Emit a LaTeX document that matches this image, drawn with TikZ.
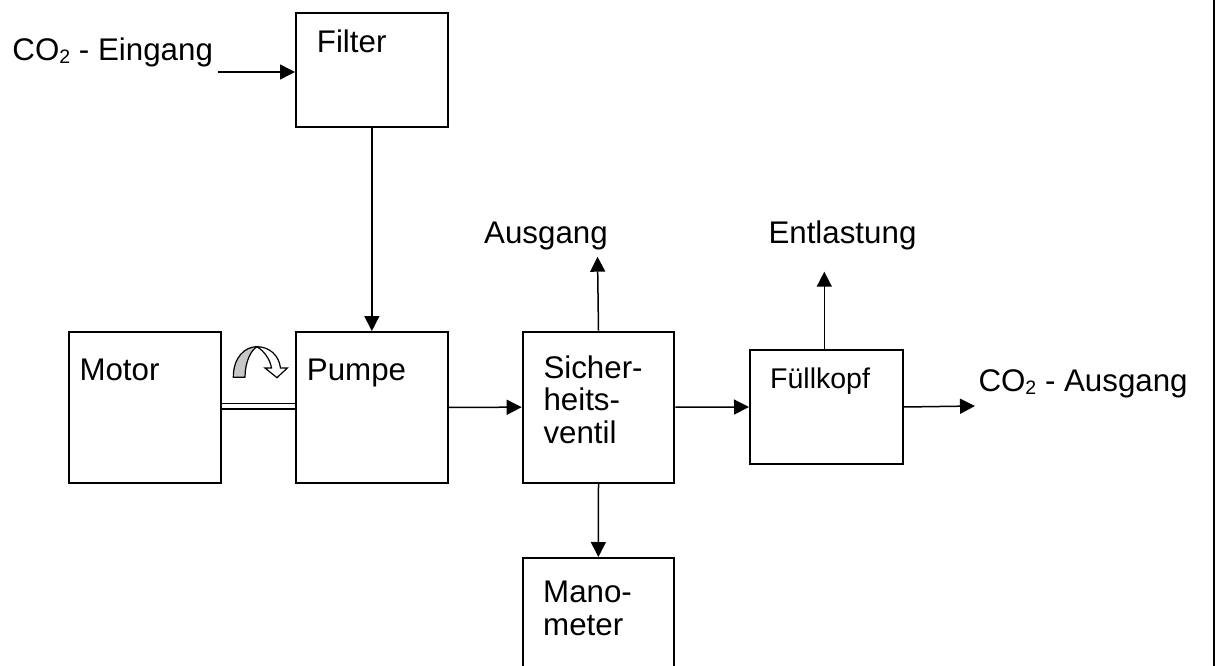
\documentclass[tikz,border=0pt]{standalone}
\usepackage{fontspec}
\setmainfont{Liberation Sans}
\usetikzlibrary{arrows.meta}
\begin{document}
\begin{tikzpicture}[x=1pt,y=-1pt,
  blk/.style={draw,line width=2pt,rectangle,inner sep=0pt,anchor=north west},
  lbl/.style={anchor=base west,inner sep=0pt,font=\fontsize{31.3}{32.5}\selectfont},
  smalllbl/.style={anchor=base west,inner sep=0pt,font=\fontsize{28.5}{30}\selectfont},
  flow/.style={line width=1.5pt,-{Triangle[length=15pt,width=15pt]}},
]
\useasboundingbox (0,0) rectangle (1215,666);
\clip (0,0) rectangle (1215,666);
% boxes
\node[blk,minimum width=151.7pt,minimum height=113.4pt] (filter) at (295,12.3) {};
\node[blk,minimum width=152pt,minimum height=150.7pt] (motor) at (67.7,331) {};
\node[blk,minimum width=151.7pt,minimum height=150.7pt] (pumpe) at (295,331) {};
\node[blk,minimum width=151.6pt,minimum height=151pt] (sv) at (521.7,330.7) {};
\node[blk,minimum width=150.7pt,minimum height=140pt] (mano) at (522,557) {};
\node[blk,minimum width=152.7pt,minimum height=113.4pt] (fk) at (749,349.3) {};
% labels
\node[lbl] (tein) at (12.3,61) {CO\raisebox{-2.3pt}{\fontsize{19.5}{20}\selectfont 2} - Eingang};
\node[lbl] (tfilter) at (316.7,52.7) {Filter};
\node[lbl] (tmotor) at (79.3,380) {Motor};
\node[lbl] (tpumpe) at (306.7,380) {Pumpe};
\node[lbl] (tsva) at (543.3,378) {Sicher-};
\node[lbl] (tsvb) at (543.3,410.5) {heits-};
\node[lbl] (tsvc) at (543.3,443) {ventil};
\node[lbl] (tmanoa) at (543,602.5) {Mano-};
\node[lbl] (tmanob) at (543,635) {meter};
\node[lbl] (taus) at (484,243) {Ausgang};
\node[lbl] (tentl) at (768.3,243.3) {Entlastung};
\node[smalllbl] (tfk) at (770,388.3) {Füllkopf};
\node[lbl] (tcoaus) at (978.3,391.7) {CO\raisebox{-2.3pt}{\fontsize{19.5}{20}\selectfont 2} - Ausgang};
% coordinates for free ends
\coordinate (einstart) at (218,72);
\coordinate (ausend) at (597.5,256.7);
\coordinate (entlend) at (824.3,271.7);
\coordinate (coausend) at (975,406);
% connectors
\draw[flow] (einstart) -- (filter.west |- einstart);
\draw[flow] (filter.south) -- (pumpe.north);
\draw[flow] (pumpe.east) -- (sv.west);
\draw[flow] (sv.north) -- (ausend);
\draw[flow] (sv.south) -- (mano.north);
\draw[flow] (sv.east) -- (fk.west);
\draw[flow] (fk.north -| entlend) -- (entlend);
\draw[flow] (fk.east) -- (coausend);
\draw[line width=1.8pt,double,double distance=3.6pt] (motor.east |- 0,406.2) -- (pumpe.west |- 0,406.2);
% rotation arrow
\draw[line width=1.2pt,fill=black!22,line join=round]
  (233.3,377.3) .. controls (233.3,357) and (245,346.7) .. (257,346.7)
  .. controls (251,350) and (245,362) .. (245,377.3) -- cycle;
\draw[line width=1.2pt,fill=white,line join=miter]
  (257,346.7) .. controls (269,346.7) and (279,355) .. (280.5,368)
  -- (287.3,368) -- (277,377.7) -- (265,368) -- (271.5,368)
  .. controls (270,359) and (264,351) .. (257,346.7) -- cycle;
% right border
\draw[line width=2pt] (1213.5,0) -- (1213.5,666);
\end{tikzpicture}
\end{document}
